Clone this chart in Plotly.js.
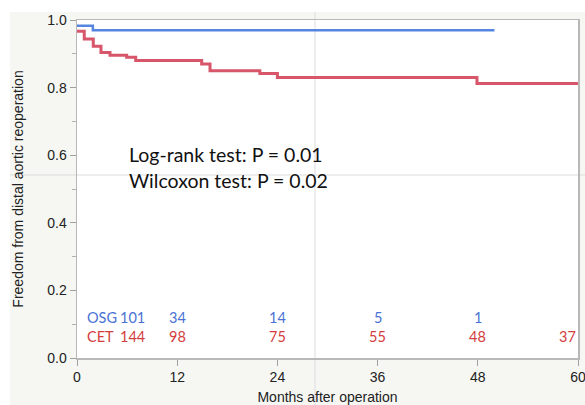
<!DOCTYPE html>
<html>
<head>
<meta charset="utf-8">
<script src="https://cdn.plot.ly/plotly-3.0.1.min.js"></script>
<style>html,body{margin:0;padding:0;background:#fff;}</style>
</head>
<body>
<div id="chart" style="width:585px;height:405px;"></div>
<script>
// Kaplan-Meier step data: months after operation and freedom from reoperation
const osgMonths = [0, 1.9, 50];
const osgSurv   = [0.983, 0.970, 0.970];
const cetMonths = [0, 0.87, 1.95, 2.87, 3.95, 5.95, 7.03, 14.93, 15.93, 21.9, 24.0, 47.9, 60];
const cetSurv   = [0.967, 0.944, 0.922, 0.904, 0.896, 0.890, 0.880, 0.870, 0.850, 0.842, 0.830, 0.812, 0.812];

// Numbers at risk
const riskMonths = [0, 12, 24, 36, 48, 60];
const osgAtRisk  = ['101', '34', '14', '5', '1', ''];
const cetAtRisk  = ['144', '98', '75', '55', '48', '37'];

const statLines = ['Log-rank test: P = 0.01', 'Wilcoxon test: P = 0.02'];

const blueLine = '#5585e0', redLine = '#d8566a';
const blueText = '#4a72d4', redText = '#d43c40';
const textFont = 'Lato, "Open Sans", sans-serif';

const traces = [
  {x: cetMonths, y: cetSurv, mode: 'lines', line: {shape: 'hv', color: redLine, width: 3}, hoverinfo: 'skip'},
  {x: osgMonths, y: osgSurv, mode: 'lines', line: {shape: 'hv', color: blueLine, width: 2.5}, hoverinfo: 'skip'}
];

const annotations = [];
statLines.forEach((t, i) => {
  annotations.push({xref: 'paper', yref: 'paper', x: 0.1, y: 0.601 - i * 0.077,
    xanchor: 'left', yanchor: 'middle', text: t, showarrow: false,
    font: {family: textFont, size: 19.5, color: '#111'}});
});
function riskRow(label, counts, color, yPos) {
  annotations.push({xref: 'x', yref: 'paper', x: 0.9, y: yPos, xanchor: 'left', yanchor: 'middle',
    text: label, showarrow: false, font: {family: textFont, size: 14.5, color: color}});
  counts.forEach((c, i) => {
    if (!c) return;
    const first = i === 0, last = i === counts.length - 1;
    annotations.push({xref: 'x', yref: 'paper',
      x: first ? 6.6 : riskMonths[i], y: yPos,
      xanchor: last ? 'right' : 'center', yanchor: 'middle',
      text: c, showarrow: false, font: {family: textFont, size: 14.5, color: color}});
  });
}
riskRow('OSG', osgAtRisk, blueText, 0.121);
riskRow('CET', cetAtRisk, redText, 0.065);

const px = v => (v - 77) / 501, py = v => (358 - v) / 338;
const shapes = [
  // white strips at the top and left edges of the figure
  {type: 'rect', xref: 'paper', yref: 'paper', x0: px(0), x1: px(585), y0: py(12), y1: py(0),
   fillcolor: '#ffffff', line: {width: 0}, layer: 'below'},
  {type: 'rect', xref: 'paper', yref: 'paper', x0: px(0), x1: px(10), y0: py(405), y1: py(0),
   fillcolor: '#ffffff', line: {width: 0}, layer: 'below'},
  // faint guide lines
  {type: 'line', xref: 'paper', yref: 'paper', x0: px(315), x1: px(315), y0: py(405), y1: py(12),
   line: {color: '#dcdcdc', width: 1}, layer: 'below'},
  {type: 'line', xref: 'paper', yref: 'paper', x0: px(10), x1: px(585), y0: py(175), y1: py(175),
   line: {color: '#dcdcdc', width: 1}, layer: 'below'}
];

const axisFont = {family: 'Arial, "Liberation Sans", sans-serif', size: 14, color: '#222'};
const layout = {
  width: 585, height: 405,
  margin: {l: 77, r: 7, t: 20, b: 47},
  paper_bgcolor: '#f6f7f3',
  plot_bgcolor: '#ffffff',
  showlegend: false,
  xaxis: {
    range: [0, 60], tickvals: riskMonths, ticks: 'outside', ticklen: 6, tickcolor: '#a0a0a0',
    ticklabeloverflow: 'allow',
    showline: true, linecolor: '#b8b8b8', linewidth: 1.5, mirror: true,
    showgrid: false, zeroline: false, tickfont: axisFont, fixedrange: true,
    title: {text: 'Months after operation', font: axisFont, standoff: 8}
  },
  yaxis: {
    range: [0, 1], dtick: 0.2, tickformat: '.1f', ticks: 'outside', ticklen: 6, tickcolor: '#a0a0a0',
    minor: {dtick: 0.1, ticks: 'outside', ticklen: 4, tickcolor: '#b0b0b0'},
    showline: true, linecolor: '#b8b8b8', linewidth: 1.5, mirror: true,
    showgrid: false, zeroline: false, tickfont: axisFont, fixedrange: true,
    title: {text: 'Freedom from distal aortic reoperation', font: axisFont, standoff: 20}
  },
  annotations: annotations,
  shapes: shapes
};

Plotly.newPlot('chart', traces, layout, {displayModeBar: false, staticPlot: true});
</script>
</body>
</html>
